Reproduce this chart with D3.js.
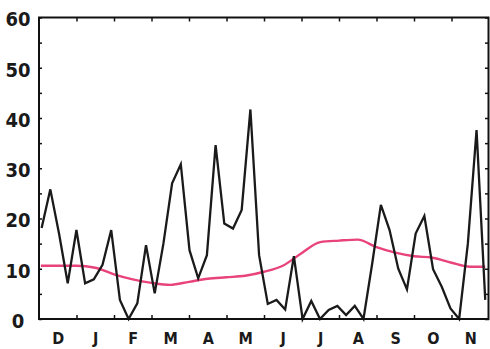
<!DOCTYPE html>
<html>
<head>
<meta charset="utf-8">
<script src="https://cdn.jsdelivr.net/npm/d3@7"></script>
<style>
  html, body { margin: 0; padding: 0; background: #fff; }
  svg { display: block; }
</style>
</head>
<body>
<svg id="chart" width="490" height="349"></svg>
<script>
// ---- data ----
const months = ["D", "J", "F", "M", "A", "M", "J", "J", "A", "S", "O", "N"];
const yTickLabels = [0, 10, 20, 30, 40, 50, 60];
// weekly values (black line), 52 weeks starting early December
const weeklyValues = [
  18.1, 25.8, 17, 7.1, 17.7, 7.1, 7.9, 10.8, 17.7, 3.8,
  0, 3.1, 14.7, 5.1, 15, 27, 30.8, 13.7, 8.1, 12.7,
  34.6, 19, 18, 21.7, 41.7, 12.7, 3, 3.8, 1.9, 12.5,
  0, 3.6, 0, 1.8, 2.6, 0.8, 2.6, 0, 11, 22.7,
  17.7, 10, 5.9, 17, 20.5, 9.9, 6.4, 2.1, 0, 15,
  37.6, 3.8
];
// smooth reference curve (pink), position in months and value
const meanMonths = [0.05, 0.5, 1, 1.5, 2, 2.5, 3, 3.5, 4, 4.5, 5, 5.5, 6, 6.5, 7, 7.5, 8, 8.5, 9, 9.5, 10, 10.5, 11, 11.5, 11.9];
const meanValues = [10.6, 10.6, 10.6, 10.2, 8.9, 7.9, 7.2, 6.8, 7.4, 8.0, 8.3, 8.6, 9.4, 10.6, 13.1, 15.3, 15.6, 15.8, 14.3, 13.2, 12.5, 12.2, 11.2, 10.4, 10.4];

// ---- scales ----
const svg = d3.select("#chart");
const x = d3.scaleLinear().domain([0, 12]).range([39, 489]);
const xWeek = d3.scaleLinear().domain([0, 51]).range([x(0.07), x(11.9)]);
const y = d3.scaleLinear().domain([0, 60]).range([319, 17.5]);

const fontFamily = "'DejaVu Sans Condensed', 'DejaVu Sans', sans-serif";

// ---- inner ticks ----
const minorY = d3.range(0, 61, 5);
svg.append("g").attr("transform", `translate(${x(0)},0)`)
  .call(d3.axisLeft(y).tickValues(minorY).tickSize(-3).tickFormat(""))
  .call(g => g.select(".domain").remove())
  .selectAll("line").attr("stroke", "#111").attr("stroke-width", 1.5);
svg.append("g").attr("transform", `translate(${x(12)},0)`)
  .call(d3.axisRight(y).tickValues(minorY).tickSize(-4).tickFormat(""))
  .call(g => g.select(".domain").remove())
  .selectAll("line").attr("stroke", "#111").attr("stroke-width", 1.5);
const monthBounds = d3.range(1, 12);
svg.append("g").attr("transform", `translate(0,${y(0)})`)
  .call(d3.axisBottom(x).tickValues(monthBounds).tickSize(-4).tickFormat(""))
  .call(g => g.select(".domain").remove())
  .selectAll("line").attr("stroke", "#111").attr("stroke-width", 1.5);
svg.append("g").attr("transform", `translate(0,${y(60)})`)
  .call(d3.axisTop(x).tickValues(monthBounds).tickSize(-4).tickFormat(""))
  .call(g => g.select(".domain").remove())
  .selectAll("line").attr("stroke", "#111").attr("stroke-width", 1.5);

// ---- labels ----
svg.append("g").attr("transform", `translate(${x(0)},0)`)
  .call(d3.axisLeft(y).tickValues(yTickLabels).tickSize(0).tickFormat(d3.format("d")))
  .call(g => g.select(".domain").remove())
  .selectAll("text")
  .attr("x", -21).attr("dy", "0.42em")
  .attr("text-anchor", "middle")
  .attr("font-family", fontFamily).attr("font-weight", "bold")
  .attr("font-size", 20).attr("fill", "#1a1a1a");

svg.append("g").attr("transform", `translate(0,${y(0)})`)
  .call(d3.axisBottom(x).tickValues(d3.range(0.5, 12, 1)).tickSize(0)
    .tickFormat((d, i) => months[i]))
  .call(g => g.select(".domain").remove())
  .selectAll("text")
  .attr("y", 25).attr("dy", 0)
  .attr("font-family", fontFamily).attr("font-weight", "bold")
  .attr("font-size", 16).attr("fill", "#1a1a1a");

// ---- pink curve ----
const meanData = meanMonths.map((m, i) => ({ m, v: meanValues[i] }));
svg.append("path")
  .datum(meanData)
  .attr("fill", "none")
  .attr("stroke", "#e8437c")
  .attr("stroke-width", 2.4)
  .attr("d", d3.line().x(d => x(d.m)).y(d => y(d.v)).curve(d3.curveMonotoneX));

// ---- black line ----
svg.append("path")
  .datum(weeklyValues)
  .attr("fill", "none")
  .attr("stroke", "#1a1a1a")
  .attr("stroke-width", 2.3)
  .attr("stroke-linejoin", "miter")
  .attr("d", d3.line().x((d, i) => xWeek(i)).y(d => y(d)));

// ---- frame ----
svg.append("rect")
  .attr("x", x(0)).attr("y", y(60))
  .attr("width", x(12) - x(0) - 0.5).attr("height", y(0) - y(60))
  .attr("fill", "none").attr("stroke", "#111").attr("stroke-width", 2);
</script>
</body>
</html>
